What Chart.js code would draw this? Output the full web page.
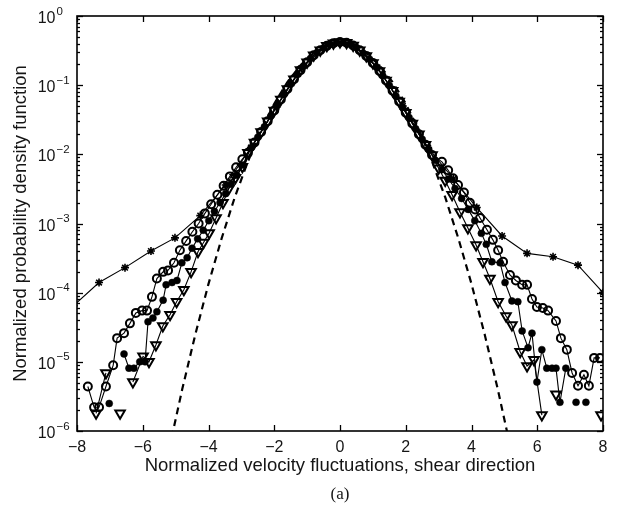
<!DOCTYPE html>
<html>
<head>
<meta charset="utf-8">
<script src="https://cdn.jsdelivr.net/npm/chart.js@4.4.1/dist/chart.umd.min.js"></script>
<style>
html,body{margin:0;padding:0;background:#fff;}
#wrap{width:624px;height:511px;}
</style>
</head>
<body>
<div id="wrap"><canvas id="c" width="624" height="511"></canvas></div>
<script>
// ---------- DATA ----------
// central part shared by the open-circle and triangle PDFs
const coreX = [-2.8,-2.6,-2.4,-2.2,-2.0,-1.8,-1.6,-1.4,-1.2,-1.0,-0.8,-0.6,-0.4,-0.2,0,0.2,0.4,0.6,0.8,1.0,1.2,1.4,1.6,1.8,2.0,2.2,2.4,2.6,2.8];
const coreY = [0.0105,0.0148,0.021,0.030,0.043,0.062,0.088,0.122,0.165,0.215,0.27,0.32,0.37,0.405,0.42,0.41,0.375,0.32,0.265,0.21,0.16,0.117,0.083,0.058,0.040,0.028,0.0195,0.0138,0.0098];
// central part of the filled-dot PDF (its bins fall between the others)
const dotCoreX = [-2.7,-2.5,-2.3,-2.1,-1.9,-1.7,-1.5,-1.3,-1.1,-0.9,-0.7,-0.5,-0.3,-0.1,0.1,0.3,0.5,0.7,0.9,1.1,1.3,1.5,1.7,1.9,2.1,2.3,2.5,2.7];
const dotCoreY = [0.0125,0.0177,0.025,0.036,0.052,0.074,0.104,0.143,0.19,0.243,0.296,0.345,0.39,0.415,0.418,0.395,0.35,0.292,0.237,0.184,0.137,0.099,0.07,0.048,0.034,0.0235,0.0165,0.0117];

// open circles
const circLeftX = [-7.67,-7.48,-7.33,-7.12,-6.90,-6.78,-6.57,-6.39,-6.21,-6.02,-5.87,-5.72,-5.57,-5.38,-5.23,-5.05,-4.87,-4.68,-4.49,-4.30,-4.11,-3.92,-3.73,-3.54,-3.35,-3.16,-2.97];
const circLeftY = [4.4e-6,2.2e-6,2.2e-6,4.4e-6,8.9e-6,2.2e-5,2.6e-5,3.6e-5,5.1e-5,5.5e-5,5.5e-5,8.7e-5,1.6e-4,2.0e-4,2.1e-4,2.7e-4,4.1e-4,5.6e-4,7.6e-4,1.0e-3,1.4e-3,1.9e-3,2.6e-3,3.5e-3,4.8e-3,6.5e-3,8.5e-3];
const circRightX = [3.10,3.29,3.44,3.59,3.77,3.95,4.11,4.26,4.47,4.65,4.81,4.96,5.17,5.35,5.54,5.69,5.84,5.99,6.17,6.33,6.57,6.72,6.90,7.06,7.24,7.42,7.57,7.73,7.91];
const circRightY = [7.8e-3,5.9e-3,4.5e-3,3.6e-3,2.8e-3,2.0e-3,1.6e-3,1.2e-3,8.1e-4,5.8e-4,4.1e-4,2.8e-4,1.8e-4,1.5e-4,1.3e-4,1.3e-4,8.1e-5,6.2e-5,6.0e-5,5.5e-5,3.9e-5,2.2e-5,1.5e-5,6.9e-6,4.5e-6,6.5e-6,4.5e-6,1.14e-5,1.14e-5];

// filled dots
const dotLeftX = [-7.02,-6.8,-6.57,-6.42,-6.27,-6.09,-5.93,-5.84,-5.69,-5.57,-5.38,-5.29,-5.11,-4.96,-4.81,-4.65,-4.50,-4.33,-4.16,-3.99,-3.82,-3.65,-3.48,-3.31,-3.14,-2.94];
const dotLeftY = [2.5e-6,null,1.3e-5,8.1e-6,8.1e-6,1.0e-5,1.0e-5,3.8e-5,4.3e-5,5.3e-5,7.8e-5,1.3e-4,1.4e-4,1.5e-4,2.7e-4,3.2e-4,4.4e-4,6.0e-4,8.0e-4,1.1e-3,1.5e-3,2.0e-3,2.7e-3,3.7e-3,5.0e-3,7.0e-3];
const dotRightX = [2.9,3.1,3.3,3.5,3.7,3.9,4.1,4.3,4.45,4.62,4.87,5.02,5.23,5.41,5.54,5.72,5.84,5.99,6.14,6.29,6.45,6.57,6.69,6.87,7.02,7.18,7.33,7.48];
const dotRightY = [8.2e-3,6.0e-3,4.4e-3,3.2e-3,2.3e-3,1.6e-3,1.1e-3,7.2e-4,5.0e-4,2.8e-4,2.7e-4,1.4e-4,7.6e-5,7.4e-5,2.8e-5,1.6e-5,2.6e-5,5.1e-6,1.5e-5,8.1e-6,8.1e-6,8.1e-6,2.6e-6,8.1e-6,null,2.6e-6,null,2.6e-6];

// open down-triangles
const triLeftX = [-7.42,-7.12,-6.9,-6.69,-6.5,-6.30,-5.99,-5.81,-5.60,-5.39,-5.17,-4.97,-4.75,-4.53,-4.32,-4.15,-3.98,-3.77,-3.56,-3.38,-3.18,-2.97];
const triLeftY = [1.8e-6,6.9e-6,null,1.8e-6,null,5.1e-6,1.2e-5,1.0e-5,1.75e-5,3.3e-5,4.8e-5,7.4e-5,1.1e-4,2.0e-4,3.9e-4,5.3e-4,7.3e-4,1.2e-3,2.0e-3,3.2e-3,4.6e-3,6.6e-3];
const triRightX = [3.0,3.2,3.41,3.65,3.89,4.14,4.35,4.56,4.81,5.05,5.23,5.48,5.69,5.90,6.14,6.35,6.57,6.8,7.94];
const triRightY = [6.3e-3,4.2e-3,2.6e-3,1.47e-3,8.6e-4,4.9e-4,2.8e-4,1.6e-4,7.4e-5,4.6e-5,3.4e-5,1.4e-5,8.7e-6,1.07e-5,1.7e-6,null,3.4e-6,null,1.7e-6];

// coarse-binned series (asterisks)
const starX = [-8.1,-7.33,-6.54,-5.75,-5.02,-4.25,-3.48,-2.71,-1.94,-1.17,-0.40,0.37,1.14,1.91,2.68,3.45,4.16,4.93,5.69,6.48,7.24,8.0];
const starY = [6.5e-5,1.4e-4,2.3e-4,4.0e-4,6.2e-4,1.3e-3,3.6e-3,0.0125,0.048,0.175,0.38,0.385,0.18,0.05,0.0125,4.4e-3,1.7e-3,6.6e-4,3.7e-4,3.3e-4,2.5e-4,1.0e-4];

// dashed reference curve
const gaussX = [-5.2,-4.8,-4.4,-4.0,-3.6,-3.2,-2.8,-2.4,-2.0,-1.6,-1.2,-0.8,-0.4,0,0.4,0.8,1.2,1.6,2.0,2.4,2.8,3.2,3.6,4.0,4.4,4.8,5.2];
const gaussY = [5.4e-7,4.0e-6,2.5e-5,1.34e-4,6.1e-4,2.4e-3,7.9e-3,0.0224,0.054,0.111,0.194,0.290,0.368,0.399,0.368,0.290,0.194,0.111,0.054,0.0224,7.9e-3,2.4e-3,6.1e-4,1.34e-4,2.5e-5,4.0e-6,5.4e-7];

// axes
const xTickValues = [-8,-6,-4,-2,0,2,4,6,8];
const xTickLabels = ['\u22128','\u22126','\u22124','\u22122','0','2','4','6','8'];
const yExponents = [0,-1,-2,-3,-4,-5,-6];
const yExpLabels = ['0','\u22121','\u22122','\u22123','\u22124','\u22125','\u22126'];
const xTitle = 'Normalized velocity fluctuations, shear direction';
const yTitle = 'Normalized probability density function';
const caption = '(a)';

// ---------- BUILD ----------
function pts(xs, ys){ return xs.map((x,i)=>({x:x, y:ys[i]})); }
const circData = pts(circLeftX.concat(coreX, circRightX), circLeftY.concat(coreY, circRightY));
const dotData  = pts(dotLeftX.concat(dotCoreX, dotRightX), dotLeftY.concat(dotCoreY, dotRightY));
const triData  = pts(triLeftX.concat(coreX, triRightX), triLeftY.concat(coreY, triRightY));
const starData = pts(starX, starY);
const gaussData = pts(gaussX, gaussY);

const TXT = '#151515';
const axesPlugin = {
  id: 'matlabAxes',
  afterDraw(chart){
    const ctx = chart.ctx, a = chart.chartArea, xs = chart.scales.x, ys = chart.scales.y;
    ctx.save();
    ctx.strokeStyle = '#000';
    ctx.lineWidth = 1.6;
    ctx.strokeRect(a.left, a.top, a.right - a.left, a.bottom - a.top);
    ctx.lineWidth = 1.3;
    function seg(x1,y1,x2,y2){ ctx.beginPath(); ctx.moveTo(x1,y1); ctx.lineTo(x2,y2); ctx.stroke(); }
    xTickValues.forEach(v=>{
      const px = Math.round(xs.getPixelForValue(v)) + 0.5;
      seg(px, a.bottom, px, a.bottom - 6);
      seg(px, a.top, px, a.top + 6);
    });
    yExponents.forEach(k=>{
      const py = Math.round(ys.getPixelForValue(Math.pow(10,k))) + 0.5;
      seg(a.left, py, a.left + 6, py);
      seg(a.right, py, a.right - 6, py);
      if (k > -6) {
        for (let m = 2; m <= 9; m++) {
          const v = m * Math.pow(10, k - 1);
          const pm = Math.round(ys.getPixelForValue(v)) + 0.5;
          seg(a.left, pm, a.left + 3, pm);
          seg(a.right, pm, a.right - 3, pm);
        }
      }
    });
    ctx.fillStyle = TXT;
    ctx.font = '16px "Liberation Sans", Arial, sans-serif';
    ctx.textAlign = 'center';
    ctx.textBaseline = 'alphabetic';
    xTickValues.forEach((v,i)=>{
      ctx.fillText(xTickLabels[i], xs.getPixelForValue(v), a.bottom + 21);
    });
    yExponents.forEach((k,i)=>{
      const py = ys.getPixelForValue(Math.pow(10,k));
      ctx.font = '16px "Liberation Sans", Arial, sans-serif';
      ctx.textAlign = 'right';
      ctx.fillText('10', a.left - 21.5, py + 7);
      ctx.font = '11.5px "Liberation Sans", Arial, sans-serif';
      ctx.textAlign = 'left';
      ctx.fillText(yExpLabels[i], a.left - 20.5, py - 1.5);
    });
    ctx.font = '18.5px "Liberation Sans", Arial, sans-serif';
    ctx.textAlign = 'center';
    ctx.fillText(xTitle, (a.left + a.right) / 2, a.bottom + 40);
    ctx.save();
    ctx.translate(21, (a.top + a.bottom) / 2);
    ctx.rotate(-Math.PI / 2);
    ctx.textBaseline = 'middle';
    ctx.fillText(yTitle, 0, 0);
    ctx.restore();
    ctx.font = '17px "Liberation Serif", "Times New Roman", serif';
    ctx.textAlign = 'center';
    ctx.fillText(caption, (a.left + a.right) / 2, a.bottom + 68);
    ctx.restore();
  }
};

const common = { borderColor:'#000', pointBorderColor:'#000', spanGaps:false, clip:0, tension:0, showLine:true };

new Chart(document.getElementById('c'), {
  type: 'scatter',
  data: {
    datasets: [
      Object.assign({}, common, { label:'triangles', data: triData, order:1, borderWidth:1.1,
        pointStyle:'triangle', pointRotation:180, pointRadius:5.5, pointBorderWidth:2, pointBackgroundColor:'rgba(255,255,255,0)' }),
      Object.assign({}, common, { label:'dots', data: dotData, order:2, borderWidth:1.1,
        pointStyle:'circle', pointRadius:3.5, pointBorderWidth:0.5, pointBackgroundColor:'#000' }),
      Object.assign({}, common, { label:'circles', data: circData, order:3, borderWidth:1.1,
        pointStyle:'circle', pointRadius:4, pointBorderWidth:2, pointBackgroundColor:'rgba(255,255,255,0)' }),
      Object.assign({}, common, { label:'coarse', data: starData, order:4, borderWidth:1.1,
        pointStyle:'star', pointRadius:4, pointBorderWidth:1.6, pointBackgroundColor:'rgba(255,255,255,0)' }),
      Object.assign({}, common, { label:'gaussian', data: gaussData, order:5, borderWidth:2.2,
        borderDash:[7,5], pointRadius:0 })
    ]
  },
  options: {
    responsive:false,
    devicePixelRatio:1,
    animation:false,
    events:[],
    layout:{ padding:{ left:0, top:16, right:21, bottom:0 } },
    plugins:{ legend:{display:false}, tooltip:{enabled:false} },
    scales:{
      x:{ type:'linear', min:-8, max:8, grid:{display:false}, border:{display:false}, ticks:{display:false},
          afterFit(s){ s.height = 80; } },
      y:{ type:'logarithmic', min:1e-6, max:1, grid:{display:false}, border:{display:false}, ticks:{display:false},
          afterFit(s){ s.width = 77; } }
    }
  },
  plugins:[axesPlugin]
});
</script>
</body>
</html>
